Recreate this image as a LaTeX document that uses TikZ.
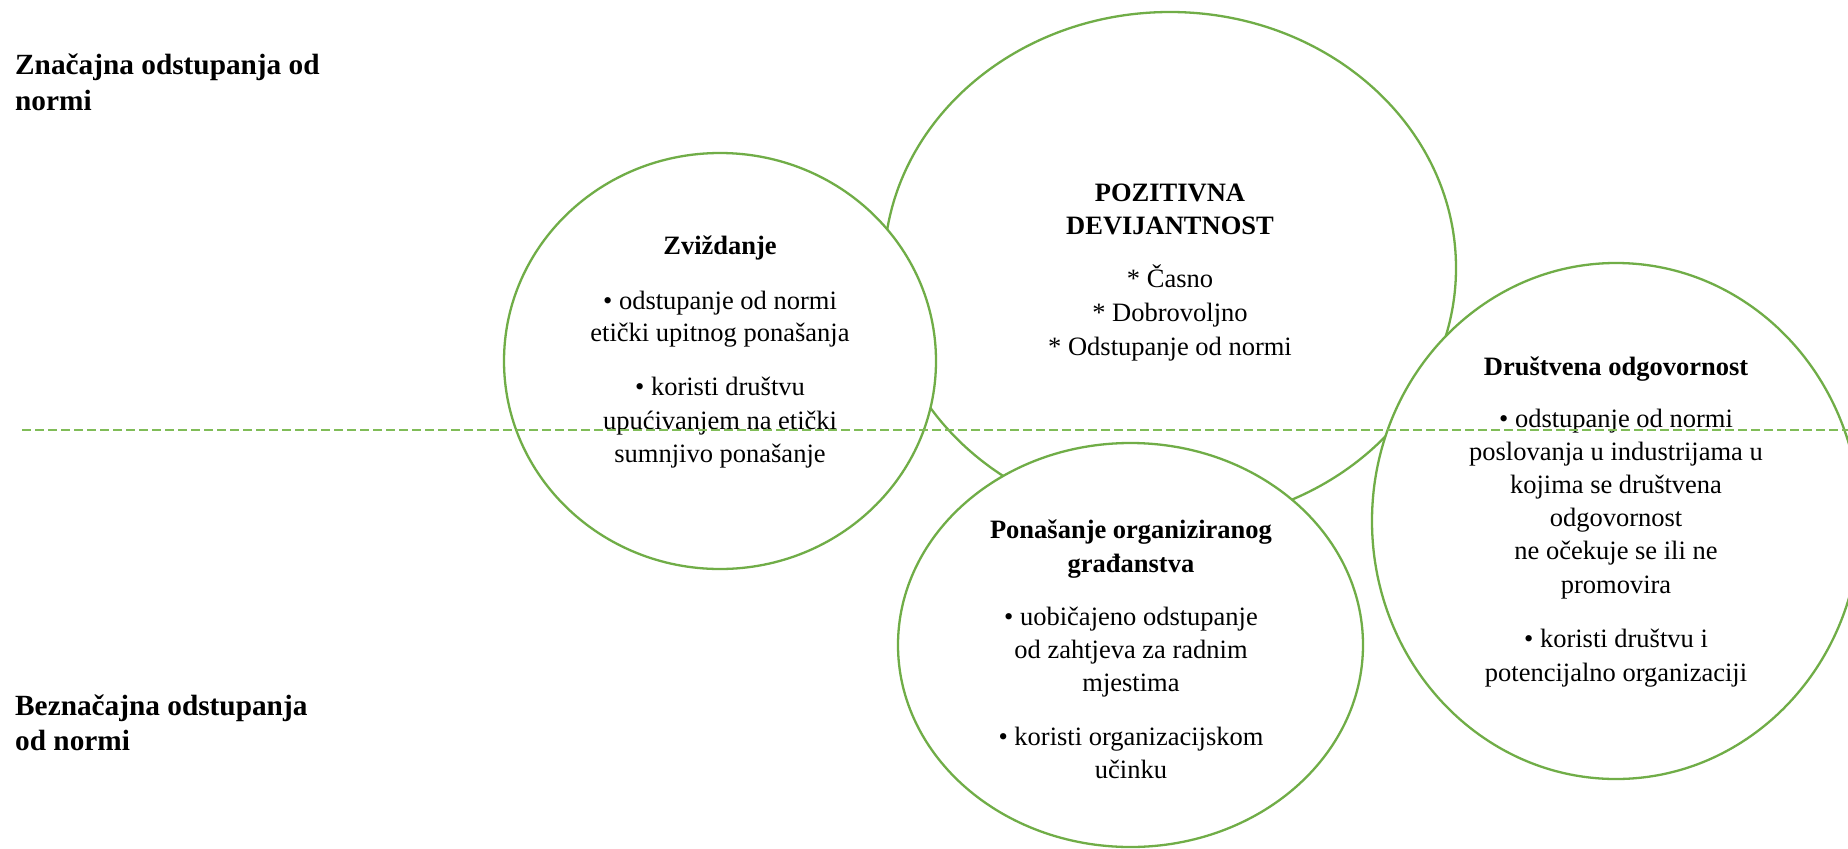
\documentclass[tikz,border=0pt]{standalone}
\usepackage{fontspec}
\setmainfont{Liberation Serif}
\usetikzlibrary{shapes.geometric}
\definecolor{circgreen}{RGB}{112,173,71}
\definecolor{dashgreen}{RGB}{128,188,88}
\begin{document}
\begin{tikzpicture}[x=1pt,y=-1pt,
  blob/.style={ellipse, draw=circgreen, line width=2.3pt, fill=white, inner sep=0pt, outer sep=0pt},
  body/.style={font=\fontsize{26.5}{32}\selectfont, anchor=base, inner sep=0pt},
  head/.style={font=\fontsize{26.5}{32}\selectfont\bfseries, anchor=base, inner sep=0pt},
  side/.style={font=\fontsize{29.3}{36}\selectfont\bfseries, anchor=base west, inner sep=0pt},
  divider/.style={draw=dashgreen, line width=1.5pt, dash pattern=on 8.5pt off 4.5pt}]
\clip (0,0) rectangle (1848,849);
\fill[white] (0,0) rectangle (1848,849);
% circles
\node[blob, minimum width=572pt, minimum height=512pt] (poz) at (1170,268) {};
\node[blob, minimum width=432pt, minimum height=416pt] (zvi) at (720,361) {};
\node[blob, minimum width=465pt, minimum height=404pt] (pon) at (1130.5,645) {};
\node[blob, minimum width=488pt, minimum height=516pt] (dru) at (1616,521) {};
% side labels
\node[side] (sigA) at (15,74) {Značajna odstupanja od};
\node[side] (sigB) at (15,110) {normi};
\node[side] (insA) at (15,715) {Beznačajna odstupanja};
\node[side] (insB) at (15,750) {od normi};
% Zvizdanje
\node[head] (zvh) at (720,254) {Zviždanje};
\foreach \t/\yy [count=\i] in {{• odstupanje od normi}/309, {etički upitnog ponašanja}/341, {• koristi društvu}/395, {upućivanjem na etički}/429, {sumnjivo ponašanje}/462}
  \node[body] (zvt\i) at (720,\yy) {\t};
% Pozitivna devijantnost
\node[head] (pozh1) at (1170,201) {POZITIVNA};
\node[head] (pozh2) at (1170,234) {DEVIJANTNOST};
\foreach \t/\yy [count=\i] in {{* Časno}/287, {* Dobrovoljno}/321, {* Odstupanje od normi}/355}
  \node[body] (pozt\i) at (1170,\yy) {\t};
% Ponasanje
\node[head] (ponh1) at (1131,538) {Ponašanje organiziranog};
\node[head] (ponh2) at (1131,572) {građanstva};
\foreach \t/\yy [count=\i] in {{• uobičajeno odstupanje}/625, {od zahtjeva za radnim}/658, {mjestima}/691, {• koristi organizacijskom}/745, {učinku}/778}
  \node[body] (pont\i) at (1131,\yy) {\t};
% Drustvena odgovornost
\node[head] (druh) at (1616,375) {Društvena odgovornost};
\foreach \t/\yy [count=\i] in {{• odstupanje od normi}/427, {poslovanja u industrijama u}/460, {kojima se društvena}/493, {odgovornost}/526, {ne očekuje se ili ne}/559, {promovira}/593, {• koristi društvu i}/647, {potencijalno organizaciji}/681}
  \node[body] (drut\i) at (1616,\yy) {\t};
% divider
\coordinate (dl) at (22,430);
\coordinate (dr) at (1848,430);
\draw[divider] (dl) -- (dr);
\end{tikzpicture}
\end{document}
